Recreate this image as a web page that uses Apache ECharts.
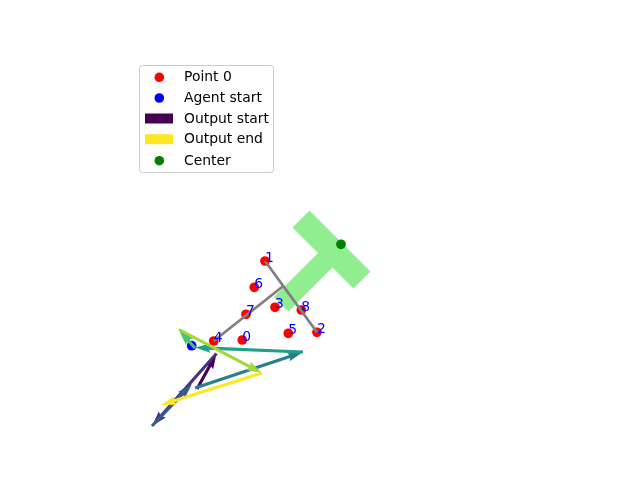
<!DOCTYPE html>
<html><head><meta charset="utf-8">
<script src="https://cdn.jsdelivr.net/npm/echarts@6/dist/echarts.min.js"></script>
<style>html,body{margin:0;padding:0;background:#fff}#c{width:640px;height:480px}</style>
</head><body><div id="c"></div>
<script>
// ---- data (picture units: x to the right, y downward) ----
const pointLabels = ['0','1','2','3','4','5','6','7','8'];
const pointX = [242.3, 265.0, 317.0, 275.0, 213.7, 288.3, 254.3, 246.0, 301.3];
const pointY = [340.0, 261.0, 332.3, 307.3, 341.0, 333.3, 287.3, 314.3, 310.0];
const agentStart = [191.7, 345.7];
const centerPoint = [341.0, 244.3];
// gray segments
const segStartX = [265.0, 213.7];
const segStartY = [261.0, 341.0];
const segEndX = [317.0, 283.3];
const segEndY = [332.3, 286.0];
// output arrows (in order, start -> end)
const arrowStartX = [197.0, 216.5, 152.0, 195.0, 303.0, 195.0, 179.0, 262.0];
const arrowStartY = [389.0, 353.5, 426.0, 388.0, 352.0, 348.0, 329.5, 373.0];
const arrowEndX   = [216.5, 152.0, 192.0, 303.0, 195.0, 179.0, 262.0, 161.0];
const arrowEndY   = [353.5, 426.0, 384.0, 352.0, 347.5, 330.0, 373.0, 405.0];
// T-shaped region outline
const shapeX = [292.5, 309.5, 370.5, 353.5, 332.5, 288.5, 274.0, 318.0];
const shapeY = [227.5, 210.5, 271.5, 288.5, 267.5, 311.5, 297.0, 253.0];
const legendLabels = ['Point 0', 'Agent start', 'Output start', 'Output end', 'Center'];

// ---- styles ----
const arrowColors = ['#440154','#46327e','#365c8d','#277f8e','#1fa187','#4ac16d','#a0da39','#fde725'];
const FONT = 'DejaVu Sans';
const FS = 13.9;

const chart = echarts.init(document.getElementById('c'), null, {renderer: 'canvas'});

const pointData = pointX.map((x, i) => [x, pointY[i], i]);
const segData = segStartX.map((x, i) => [x, segStartY[i], segEndX[i], segEndY[i]]);
const arrowData = arrowStartX.map((x, i) => [x, arrowStartY[i], arrowEndX[i], arrowEndY[i]]);

const legendColors = ['#ff0000', '#0000ff', '#440154', '#fde725', '#008000'];
const legendIsRect = [false, false, true, true, false];
const legendRowY = [77.3, 98.0, 118.5, 139.2, 160.7];
const legendChildren = [{
  type: 'rect', shape: {x: 139.5, y: 65.5, width: 134, height: 107, r: 3},
  style: {fill: 'rgba(255,255,255,0.8)', stroke: '#cccccc', lineWidth: 1}
}];
legendLabels.forEach((lab, i) => {
  if (legendIsRect[i]) {
    legendChildren.push({type: 'rect', shape: {x: 145, y: legendRowY[i] - 5, width: 28, height: 10},
      style: {fill: legendColors[i]}});
  } else {
    legendChildren.push({type: 'circle', shape: {cx: 159.3, cy: legendRowY[i], r: 4.8},
      style: {fill: legendColors[i]}});
  }
  legendChildren.push({type: 'text', x: 184, y: legendRowY[i] + 0.5,
    style: {text: lab, fill: '#000', fontFamily: FONT, fontSize: FS, align: 'left', verticalAlign: 'middle'}});
});

const option = {
  animation: false,
  backgroundColor: '#ffffff',
  grid: {left: 0, right: 0, top: 0, bottom: 0, containLabel: false},
  xAxis: {type: 'value', min: 0, max: 640, show: false},
  yAxis: {type: 'value', min: 0, max: 480, inverse: true, show: false},
  series: [
    {
      type: 'custom', name: 'Region', z: 1, silent: true, clip: false,
      data: [[shapeX[0], shapeY[0]]],
      renderItem: function (params, api) {
        const pts = shapeX.map((x, i) => api.coord([x, shapeY[i]]));
        return {type: 'polygon', shape: {points: pts}, style: {fill: '#90ee90'}};
      }
    },
    {
      type: 'scatter', name: 'Point 0', z: 2, data: pointData,
      symbol: 'circle', symbolSize: 9.7, itemStyle: {color: '#ff0000', opacity: 1}
    },
    {
      type: 'custom', name: 'Segments', z: 3, clip: false,
      encode: {x: [0, 2], y: [1, 3]},
      data: segData,
      renderItem: function (params, api) {
        const s = api.coord([api.value(0), api.value(1)]);
        const e = api.coord([api.value(2), api.value(3)]);
        return {type: 'line', shape: {x1: s[0], y1: s[1], x2: e[0], y2: e[1]},
          style: {stroke: '#808080', lineWidth: 2.78, lineCap: 'butt'}};
      }
    },
    {
      type: 'scatter', name: 'Agent start', z: 4, data: [agentStart],
      symbol: 'circle', symbolSize: 9.7, itemStyle: {color: '#0000ff', opacity: 1}
    },
    {
      type: 'scatter', name: 'Center', z: 4, data: [centerPoint],
      symbol: 'circle', symbolSize: 9.7, itemStyle: {color: '#008000', opacity: 1}
    },
    {
      type: 'custom', name: 'Output', z: 5, clip: false,
      encode: {x: [0, 2], y: [1, 3]},
      data: arrowData,
      renderItem: function (params, api) {
        const s = api.coord([api.value(0), api.value(1)]);
        const e = api.coord([api.value(2), api.value(3)]);
        const dx = e[0] - s[0], dy = e[1] - s[1];
        const L = Math.hypot(dx, dy);
        const ux = dx / L, uy = dy / L, nx = -uy, ny = ux;
        const w = 3.1, hl = 5 * w, ha = 4.5 * w, hw = 1.5 * w;
        const P = (t, o) => [s[0] + ux * t + nx * o, s[1] + uy * t + ny * o];
        const pts = [P(0, w / 2), P(L - ha, w / 2), P(L - hl, hw), P(L, 0),
                     P(L - hl, -hw), P(L - ha, -w / 2), P(0, -w / 2)];
        return {type: 'polygon', shape: {points: pts},
          style: {fill: arrowColors[params.dataIndex]}};
      }
    },
    {
      type: 'custom', name: 'Labels', z: 6, clip: false,
      data: pointData,
      renderItem: function (params, api) {
        const c = api.coord([api.value(0), api.value(1)]);
        return {type: 'text', x: c[0], y: c[1] + 4,
          style: {text: pointLabels[api.value(2)], fill: '#0000ff', fontFamily: FONT,
            fontSize: FS, align: 'left', verticalAlign: 'bottom'}};
      }
    }
  ],
  graphic: [{type: 'group', z: 100, children: legendChildren}]
};
chart.setOption(option);
</script>
</body></html>
